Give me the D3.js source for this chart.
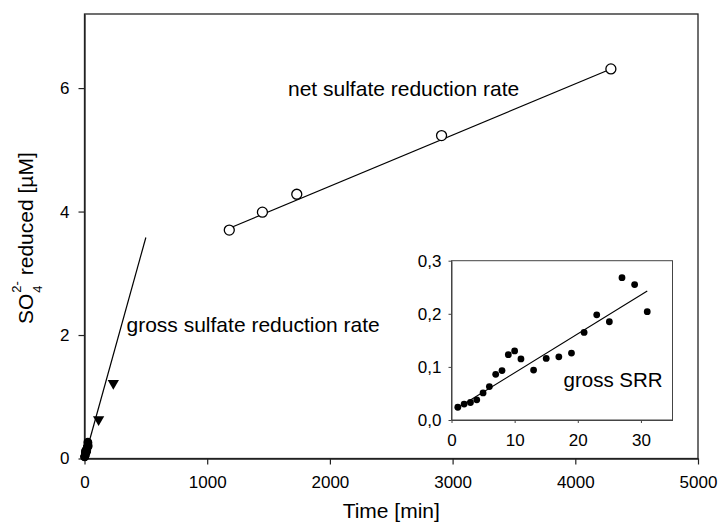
<!DOCTYPE html>
<html>
<head>
<meta charset="utf-8">
<script src="https://cdn.jsdelivr.net/npm/d3@7"></script>
<style>
  body { margin: 0; background: white; }
  text { font-family: Arial, "Liberation Sans", sans-serif; fill: black; }
</style>
</head>
<body>
<div id="chart"></div>
<script>

// net sulfate reduction (open circles)
let netTime = [1180, 1450, 1730, 2910, 4290]
let netSO4 = [3.70, 3.99, 4.28, 5.23, 6.31]
let netLineTime = [1180, 4290]
let netLineSO4 = [3.73, 6.31]

// gross sulfate reduction, longer incubation (triangles)
let triTime = [115, 235]
let triSO4 = [0.63, 1.22]
let grossLineTime = [0, 500]
let grossLineSO4 = [0, 3.58]

// gross SRR, first 31 minutes (filled dots, also the inset)
let dotTime = [1, 2, 3, 4, 5, 6, 7, 8, 9, 10, 11, 13, 15, 17, 19, 21, 23, 25, 27, 29, 31]
let dotSO4 = [0.024, 0.030, 0.033, 0.038, 0.051, 0.063, 0.086, 0.093, 0.123, 0.130, 0.115,
  0.094, 0.116, 0.119, 0.126, 0.165, 0.198, 0.185, 0.268, 0.255, 0.204]
let insetLineTime = [1, 31]
let insetLineSO4 = [0.023, 0.243]

let xTicks = [0, 1000, 2000, 3000, 4000, 5000]
let yTicks = [0, 2, 4, 6]
let insetXTicks = [0, 10, 20, 30]
let insetYTicks = [0, 0.1, 0.2, 0.3]

let width = 719;
let height = 530;

let svg = d3.select("#chart").append("svg")
  .attr("width", width)
  .attr("height", height);

let x = d3.scaleLinear().domain([0, 5000]).range([84.5, 698]);
let y = d3.scaleLinear().domain([0, 7.2]).range([458.5, 14]);

let ix = d3.scaleLinear().domain([0, 35]).range([451.5, 672.5]);
let iy = d3.scaleLinear().domain([0, 0.3]).range([420, 260.7]);

let comma = function(d){ return d3.format(".1f")(d).replace(".", ",") }

function styleAxis(g, size){
  g.selectAll("path").attr("stroke", "#222").attr("stroke-width", 1.3)
  g.selectAll("line").attr("stroke", "#222").attr("stroke-width", 1.2)
  g.selectAll("text").style("font-size", size + "px").attr("fill", "black")
}

// main frame
svg.append("rect")
  .attr("x", x(0)).attr("y", y(7.2))
  .attr("width", x(5000) - x(0)).attr("height", y(0) - y(7.2))
  .attr("fill", "none").attr("stroke", "#222").attr("stroke-width", 1.3)

svg.append("g")
  .attr("transform", `translate(0,${y(0)})`)
  .call(d3.axisBottom(x).tickValues(xTicks).tickFormat(d3.format("d")).tickSize(6).tickSizeOuter(0).tickPadding(11.5))
  .call(styleAxis, 17)

svg.append("g")
  .attr("transform", `translate(${x(0)},0)`)
  .call(d3.axisLeft(y).tickValues(yTicks).tickFormat(d3.format("d")).tickSize(6).tickSizeOuter(0).tickPadding(9))
  .call(styleAxis, 17)

// fit lines
let line = d3.line()
  .x(function(d){ return x(d[0]) })
  .y(function(d){ return y(d[1]) })

svg.append("path")
  .datum(d3.zip(grossLineTime, grossLineSO4))
  .attr("d", line)
  .attr("fill", "none").attr("stroke", "black").attr("stroke-width", 1.2)

svg.append("path")
  .datum(d3.zip(netLineTime, netLineSO4))
  .attr("d", line)
  .attr("fill", "none").attr("stroke", "black").attr("stroke-width", 1.2)

// markers
svg.selectAll(".dot")
  .data(d3.zip(dotTime, dotSO4))
  .join("circle")
  .attr("class", "dot")
  .attr("cx", function(d){ return x(d[0]) })
  .attr("cy", function(d){ return y(d[1]) })
  .attr("r", 4.3)
  .attr("fill", "black")

svg.selectAll(".tri")
  .data(d3.zip(triTime, triSO4))
  .join("path")
  .attr("class", "tri")
  .attr("d", d3.symbol(d3.symbolTriangle, 55))
  .attr("transform", function(d){ return `translate(${x(d[0])},${y(d[1])}) rotate(180)` })
  .attr("fill", "black")

svg.selectAll(".net")
  .data(d3.zip(netTime, netSO4))
  .join("circle")
  .attr("class", "net")
  .attr("cx", function(d){ return x(d[0]) })
  .attr("cy", function(d){ return y(d[1]) })
  .attr("r", 5)
  .attr("fill", "white")
  .attr("stroke", "black")
  .attr("stroke-width", 1.3)

// annotations
svg.append("text").attr("x", 288).attr("y", 95.5)
  .style("font-size", "21px").text("net sulfate reduction rate")
svg.append("text").attr("x", 126.5).attr("y", 332)
  .style("font-size", "21px").text("gross sulfate reduction rate")

// axis titles
svg.append("text")
  .attr("x", (x(0) + x(5000)) / 2).attr("y", 518)
  .attr("text-anchor", "middle")
  .style("font-size", "21px")
  .text("Time [min]")

let yl = svg.append("text")
  .attr("transform", "translate(33.3,324) rotate(-90)")
  .style("font-size", "21px")
yl.append("tspan").text("SO")
yl.append("tspan").attr("dx", 1).attr("dy", 8.5).style("font-size", "13px").text("4")
yl.append("tspan").attr("dx", -7.2).attr("dy", -21).style("font-size", "13px").text("2-")
yl.append("tspan").attr("dy", 12.5).text(" reduced [µM]")

// inset
let inset = svg.append("g")

inset.append("rect")
  .attr("x", ix(0)).attr("y", iy(0.3))
  .attr("width", ix(35) - ix(0)).attr("height", iy(0) - iy(0.3))
  .attr("fill", "white").attr("stroke", "#444").attr("stroke-width", 1)

inset.append("g")
  .attr("transform", `translate(0,${iy(0)})`)
  .call(d3.axisBottom(ix).tickValues(insetXTicks).tickFormat(d3.format("d")).tickSize(3).tickSizeOuter(0).tickPadding(10.5))
  .call(styleAxis, 17)
  .call(function(g){ g.selectAll("path, line").attr("stroke", "#444").attr("stroke-width", 1) })

inset.append("g")
  .attr("transform", `translate(${ix(0)},0)`)
  .call(d3.axisLeft(iy).tickValues(insetYTicks).tickFormat(comma).tickSize(3).tickSizeOuter(0).tickPadding(7))
  .call(styleAxis, 17)
  .call(function(g){ g.selectAll("path, line").attr("stroke", "#444").attr("stroke-width", 1) })

inset.append("path")
  .datum(d3.zip(insetLineTime, insetLineSO4))
  .attr("d", d3.line().x(function(d){ return ix(d[0]) }).y(function(d){ return iy(d[1]) }))
  .attr("fill", "none").attr("stroke", "black").attr("stroke-width", 1.1)

inset.selectAll(".idot")
  .data(d3.zip(dotTime, dotSO4))
  .join("circle")
  .attr("class", "idot")
  .attr("cx", function(d){ return ix(d[0]) })
  .attr("cy", function(d){ return iy(d[1]) })
  .attr("r", 3.4)
  .attr("fill", "black")

inset.append("text").attr("x", 563.5).attr("y", 386.5)
  .style("font-size", "20.5px").text("gross SRR")

</script>
</body>
</html>
